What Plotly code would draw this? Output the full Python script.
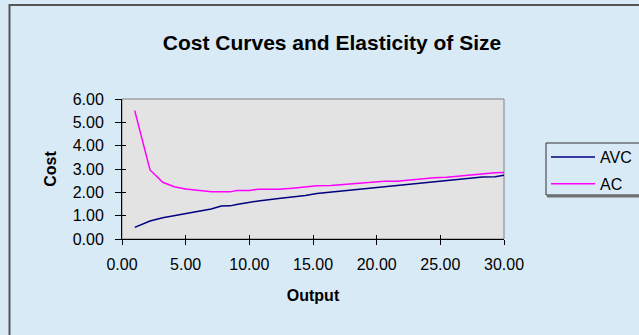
import plotly.graph_objects as go

output = [1.0, 2.2, 3.2, 4.1, 5.0, 6.0, 7.0, 7.8, 8.5, 9.0, 10.0, 10.7, 12.3, 13.4, 14.4, 15.3,
          16.4, 17.5, 18.5, 19.5, 20.6, 21.6, 22.6, 23.5, 24.5, 25.5, 26.4, 27.4, 28.3, 29.3, 30.0]
avc = [0.50, 0.77, 0.91, 1.00, 1.08, 1.18, 1.29, 1.41, 1.42, 1.48, 1.58, 1.63, 1.74, 1.79, 1.86, 1.95,
       2.01, 2.07, 2.12, 2.18, 2.24, 2.29, 2.35, 2.40, 2.44, 2.50, 2.56, 2.61, 2.66, 2.67, 2.73]
ac = [5.50, 2.96, 2.43, 2.24, 2.14, 2.08, 2.03, 2.02, 2.02, 2.08, 2.08, 2.13, 2.13, 2.18, 2.23, 2.28,
      2.29, 2.34, 2.39, 2.43, 2.47, 2.48, 2.54, 2.59, 2.63, 2.65, 2.70, 2.75, 2.79, 2.84, 2.85]
x_ticks = [0, 5, 10, 15, 20, 25, 30]
y_ticks = [0, 1, 2, 3, 4, 5, 6]

FONT = "Liberation Sans, Arial, sans-serif"
BG = "#D9EAF7"
W, H = 639, 335
L, R, T, B = 122, 504, 99, 239

def px_x(p):
    return (p - L) / (R - L)

def px_y(p):
    return (B - p) / (B - T)

fig = go.Figure()
fig.add_trace(go.Scatter(x=output, y=avc, mode="lines", name="AVC", legendgroup="a",
                         line=dict(color="#000080", width=1.5)))
fig.add_trace(go.Scatter(x=output, y=ac, mode="lines", name="AC", legendgroup="b",
                         line=dict(color="#FF00FF", width=1.5)))
# helper trace so the overlay axes (inner half of the crossing tick marks) are drawn
fig.add_trace(go.Scatter(x=[None], y=[None], xaxis="x2", yaxis="y2", showlegend=False,
                         hoverinfo="skip"))

axis_common = dict(showgrid=False, zeroline=False, showline=True, linecolor="#000000",
                   linewidth=1, tickcolor="#000000", tickfont=dict(size=16, family=FONT))

fig.update_layout(
    width=W, height=H,
    margin=dict(l=L, r=W - R, t=T, b=H - B, autoexpand=False),
    paper_bgcolor=BG,
    plot_bgcolor="#E3E3E3",
    font=dict(family=FONT, size=16, color="#000000"),
    title=dict(text="<b>Cost Curves and Elasticity of Size</b>", x=px_x(332), xanchor="center",
               xref="paper", y=1 - 43 / H, yanchor="middle", font=dict(size=21, family=FONT)),
    showlegend=True,
    legend=dict(x=px_x(546), xanchor="left", y=px_y(140), yanchor="top",
                bgcolor="rgba(0,0,0,0)", borderwidth=0,
                font=dict(size=16, family=FONT), traceorder="grouped", tracegroupgap=3,
                itemwidth=44),
    xaxis=dict(range=[0, 30], tickvals=x_ticks, ticktext=[f"{v:.2f}" for v in x_ticks],
               ticks="outside", ticklen=5, ticklabelstandoff=6,
               title=dict(text="<b>Output</b>", font=dict(size=16, family=FONT), standoff=17),
               **axis_common),
    yaxis=dict(range=[0, 6], tickvals=y_ticks, ticktext=[f"{v:.2f}" for v in y_ticks],
               ticks="outside", ticklen=6, ticklabelstandoff=8,
               title=dict(text="<b>Cost</b>", font=dict(size=16, family=FONT), standoff=12),
               **axis_common),
    xaxis2=dict(range=[0, 30], tickvals=x_ticks, overlaying="x", anchor="y", side="bottom",
                ticks="inside", ticklen=4, showticklabels=False, showgrid=False,
                zeroline=False, showline=False, tickcolor="#000000"),
    yaxis2=dict(range=[0, 6], tickvals=y_ticks, overlaying="y", anchor="x", side="left",
                ticks="inside", ticklen=4, showticklabels=False, showgrid=False,
                zeroline=False, showline=False, tickcolor="#000000"),
    shapes=[
        dict(type="rect", xref="paper", yref="paper", x0=0, x1=1, y0=0, y1=1,
             line=dict(color="#808080", width=1), fillcolor="rgba(0,0,0,0)", layer="below"),
        dict(type="rect", xref="paper", yref="paper", x0=px_x(9.5), x1=px_x(660),
             y0=px_y(360), y1=px_y(5), line=dict(color="#555555", width=2),
             fillcolor="rgba(0,0,0,0)", layer="below"),
        # legend frame with a shadow on its lower edge
        dict(type="line", xref="paper", yref="paper", x0=px_x(547), x1=px_x(645),
             y0=px_y(196.5), y1=px_y(196.5), line=dict(color="#707070", width=2)),
        dict(type="rect", xref="paper", yref="paper", x0=px_x(546), x1=px_x(645),
             y0=px_y(195), y1=px_y(143), line=dict(color="#303030", width=1),
             fillcolor="rgba(0,0,0,0)"),
    ],
)

fig.write_html("out.html")
